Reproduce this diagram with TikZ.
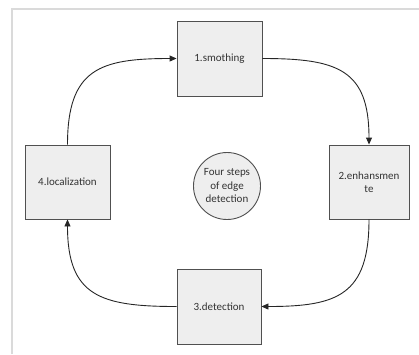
\documentclass[tikz,border=0pt]{standalone}
\usepackage{fontspec}
\setmainfont{Carlito}
\usetikzlibrary{arrows.meta}
\definecolor{boxfill}{HTML}{EEEEEE}
\definecolor{boxline}{HTML}{505050}
\definecolor{txt}{HTML}{333333}
\definecolor{frame}{HTML}{DADADA}
\begin{document}
\begin{tikzpicture}[x=1pt,y=-1pt,
  stepbox/.style={draw=boxline,fill=boxfill,line width=0.9pt,minimum width=85pt,minimum height=75pt,inner sep=2pt,text=txt,font=\fontsize{11}{13.5}\selectfont,align=center},
  conn/.style={draw=black!85,line width=0.9pt,-{Triangle[length=7pt,width=6pt]}}]
\useasboundingbox (0,0) rectangle (419,354);
\draw[frame,line width=1.5pt] (12,354) -- (12,9) -- (419,9);
\node[stepbox] (s1) at (219.5,58.5) {1.smothing};
\node[stepbox,minimum width=80pt,minimum height=74pt] (s2) at (369,182) {2.enhansmen\\te};
\node[stepbox,minimum width=84pt] (s3) at (219,306.5) {3.detection};
\node[stepbox,minimum height=74pt] (s4) at (67.5,182) {4.localization};
\node[circle,draw=boxline,fill=boxfill,line width=0.9pt,minimum size=67pt,inner sep=0pt,text=txt,align=center,font=\fontsize{11}{13.5}\selectfont] (c) at (227,186) {Four steps\\of edge\\detection};
\draw[conn] (s4.north) to[out=90,in=180,looseness=1.4] (s1.west);
\draw[conn] (s1.east) to[out=0,in=90,looseness=1.4] (s2.north);
\draw[conn] (s2.south) to[out=-90,in=0,looseness=1.4] (s3.east);
\draw[conn] (s3.west) to[out=180,in=-90,looseness=1.4] (s4.south);
\end{tikzpicture}
\end{document}
